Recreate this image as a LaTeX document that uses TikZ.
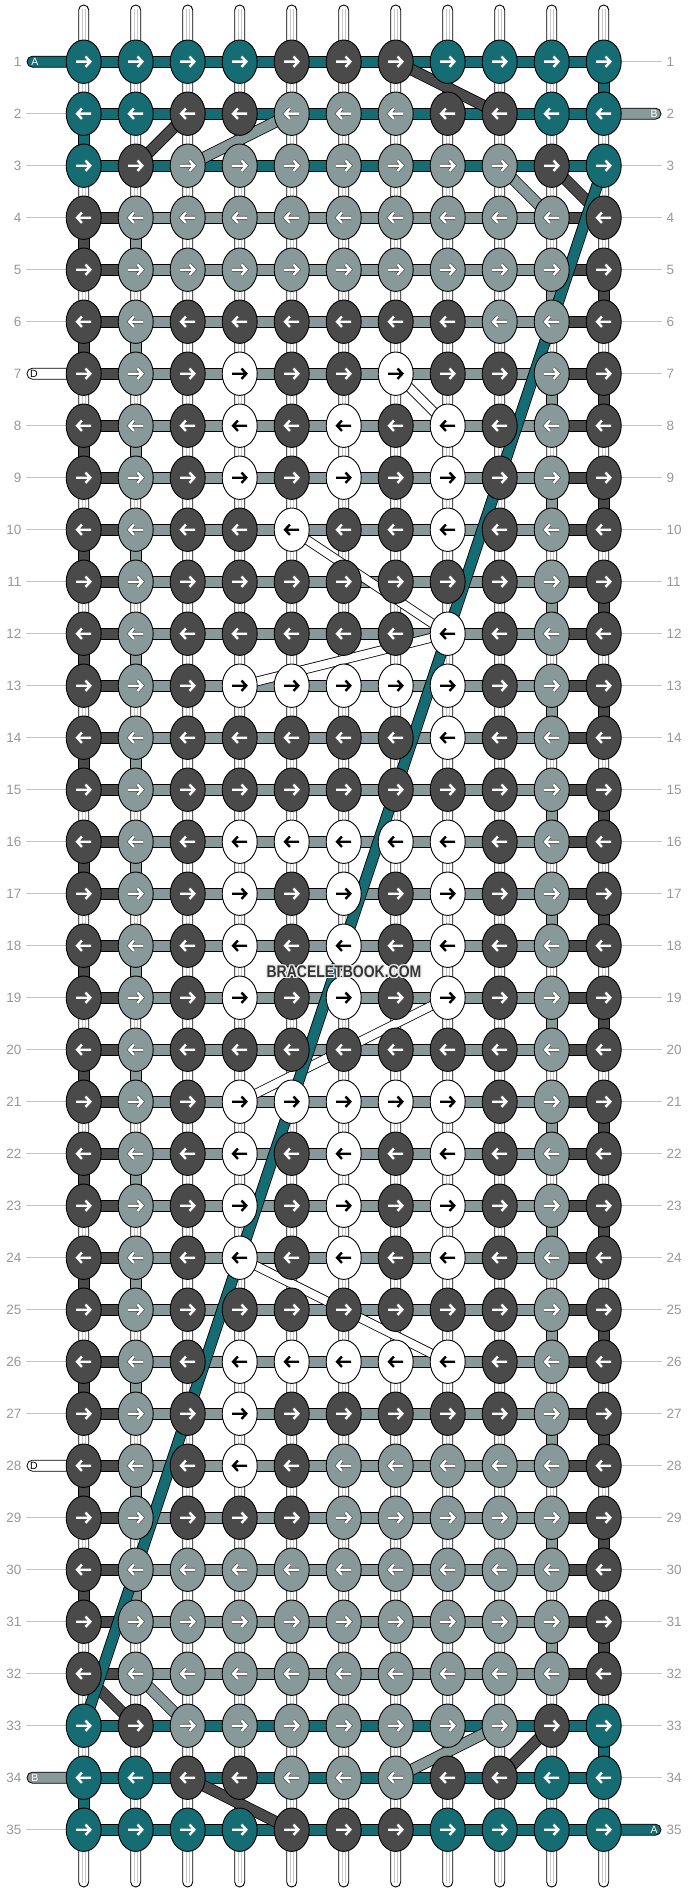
\documentclass[tikz,border=0pt]{standalone}
\usepackage{fontspec}
\setmainfont{Liberation Sans}
\usetikzlibrary{shapes.geometric}
\definecolor{kT}{HTML}{166C73}
\definecolor{kK}{HTML}{4A4A4A}
\definecolor{kG}{HTML}{889999}
\definecolor{kW}{HTML}{FFFFFF}
\colorlet{aT}{white}\colorlet{aK}{white}\colorlet{aG}{white}\colorlet{aW}{black}
\colorlet{oT}{kT}\colorlet{oK}{kK}\colorlet{oG}{black!70}\colorlet{oW}{kW}
\definecolor{lbl}{HTML}{999999}
\definecolor{lblline}{HTML}{C4C4C4}
\definecolor{vin}{HTML}{C8C8C8}
\definecolor{wm}{HTML}{353535}
\tikzset{
  knot/.style={ellipse, draw=black, line width=0.9, minimum width=35, minimum height=43.4, inner sep=0},
  vstring/.style={fill=white, draw=black, line width=0.9, rounded corners=5},
  vinner/.style={draw=vin, line width=0.8},
  bar/.style={draw=black, line width=0.8},
  lbl/.style={text=lbl, inner sep=0, font=\fontsize{13.5}{14}\selectfont},
  lblln/.style={draw=lblline, line width=1},
  taillbl/.style={inner sep=0, font=\fontsize{10.5}{11}\selectfont},
  arr/.style={line cap=butt, line join=miter},
  wmstyle/.style={inner sep=0, font=\bfseries\fontsize{14}{14}\selectfont}
}
\newcommand\mkband[3]{\draw[line width=11.6, black] (#2) -- (#3); \draw[line width=10, #1] (#2) -- (#3);}
\newcommand\mkwband[2]{\draw[line width=9.6, black] (#1) -- (#2); \draw[line width=8, white] (#1) -- (#2);}
\begin{document}
\begin{tikzpicture}[x=1pt,y=-1pt]
\fill[white] (0,0) rectangle (688,1892);
\useasboundingbox (0,0) rectangle (688,1892);
\foreach \r in {1,...,35}{\foreach \i in {1,...,11}{\coordinate (c-\r-\i) at ({83.7+52*(\i-1)},{61.7+52*(\r-1)});}}
% vertical strings
\foreach \i in {1,...,11}{
  \pgfmathsetmacro\xx{83.7+52*(\i-1)}
  \draw[vstring] (\xx-5,5) rectangle (\xx+5,1887);
  \draw[vinner] (\xx-1.7,9) -- (\xx-1.7,1883) (\xx+1.7,9) -- (\xx+1.7,1883);
}
% row labels
\foreach \r in {1,...,35}{
  \pgfmathsetmacro\yy{61.7+52*(\r-1)}
  \node[lbl, anchor=east] (ln-\r) at (21.5,\yy) {\r};
  \node[lbl, anchor=west] (rn-\r) at (666.5,\yy) {\r};
}
\foreach \r in {2,...,6,8,9,...,27,29,30,...,33,35}{\draw[lblln] ([xshift=4.5]ln-\r.east) -- ([xshift=-17.5]c-\r-1);}
\foreach \r in {1,3,4,...,34}{\draw[lblln] ([xshift=17.5]c-\r-11) -- ([xshift=-4.5]rn-\r.west);}
% tails
\draw[bar, fill=kT, rounded corners=5.4] (27,56.2) rectangle (83.7,67.2);
\node[taillbl, text=white] (tA1) at (35,61.7) {A};
\draw[bar, fill=kG, rounded corners=5.4] (603.7,108.2) rectangle (661,119.2);
\node[taillbl, text=white] (tB2) at (654,113.7) {B};
\draw[bar, fill=white, rounded corners=5.4] (27,368.2) rectangle (83.7,379.2);
\node[taillbl, text=black] (tD7) at (34,373.7) {D};
\draw[bar, fill=white, rounded corners=5.4] (27,1460.2) rectangle (83.7,1471.2);
\node[taillbl, text=black] (tD28) at (34,1465.7) {D};
\draw[bar, fill=kG, rounded corners=5.4] (27,1772.2) rectangle (83.7,1783.2);
\node[taillbl, text=white] (tB34) at (35,1777.7) {B};
\draw[bar, fill=kT, rounded corners=5.4] (603.7,1824.2) rectangle (661,1835.2);
\node[taillbl, text=white] (tA35) at (654,1829.7) {A};
% horizontal bars
\foreach \r in {1,2,3,33,34,35}{
  \pgfmathsetmacro\yy{61.7+52*(\r-1)}
  \draw[bar, fill=kT] (83.7,\yy-5.5) rectangle (603.7,\yy+5.5);
}
\foreach \r in {4,...,32}{
  \pgfmathsetmacro\yy{61.7+52*(\r-1)}
  \draw[bar, fill=kG] (135.7,\yy-5.5) rectangle (551.7,\yy+5.5);
  \draw[bar, fill=kK] (83.7,\yy-5.5) rectangle (135.7,\yy+5.5);
  \draw[bar, fill=kK] (551.7,\yy-5.5) rectangle (603.7,\yy+5.5);
}
% vertical edge connectors
\draw[bar, fill=kT] ([xshift=-5.5]c-1-11) rectangle ([xshift=5.5]c-2-11);
\draw[bar, fill=kT] ([xshift=-5.5]c-2-1) rectangle ([xshift=5.5]c-3-1);
\draw[bar, fill=kT] ([xshift=-5.5]c-33-11) rectangle ([xshift=5.5]c-34-11);
\draw[bar, fill=kT] ([xshift=-5.5]c-34-1) rectangle ([xshift=5.5]c-35-1);
\foreach \r in {4,6,...,30}{
  \pgfmathtruncatemacro\s{\r+1}
  \draw[bar, fill=kK] ([xshift=-5.5]c-\r-1) rectangle ([xshift=5.5]c-\s-1);
  \draw[bar, fill=kG] ([xshift=-5.5]c-\r-2) rectangle ([xshift=5.5]c-\s-2);
}
\foreach \r in {5,7,...,31}{
  \pgfmathtruncatemacro\s{\r+1}
  \draw[bar, fill=kK] ([xshift=-5.5]c-\r-11) rectangle ([xshift=5.5]c-\s-11);
  \draw[bar, fill=kG] ([xshift=-5.5]c-\r-10) rectangle ([xshift=5.5]c-\s-10);
}
% diagonal strands
\mkband{kK}{c-1-7}{c-2-9}
\mkband{kK}{c-2-3}{c-3-2}
\mkband{kG}{c-2-5}{c-3-3}
\mkband{kG}{c-3-9}{c-4-10}
\mkband{kK}{c-3-10}{c-4-11}
\mkwband{c-7-7}{c-8-8}
\mkwband{c-10-5}{c-12-8}
\mkwband{c-12-8}{c-13-4}
\mkwband{c-19-8}{c-21-4}
\mkwband{c-24-4}{c-26-8}
\mkband{kK}{c-32-1}{c-33-2}
\mkband{kG}{c-32-2}{c-33-3}
\mkband{kG}{c-34-7}{c-33-9}
\mkband{kK}{c-34-9}{c-33-10}
\mkband{kK}{c-34-3}{c-35-5}
\mkband{kT}{c-3-11}{c-33-1}
% knots
\foreach \r/\row in {
 1/{T,T,T,T,K,K,K,T,T,T,T},
 2/{T,T,K,K,G,G,G,K,K,T,T},
 3/{T,K,G,G,G,G,G,G,G,K,T},
 4/{K,G,G,G,G,G,G,G,G,G,K},
 5/{K,G,G,G,G,G,G,G,G,G,K},
 6/{K,G,K,K,K,K,K,K,G,G,K},
 7/{K,G,K,W,K,K,W,K,K,G,K},
 8/{K,G,K,W,K,W,K,W,K,G,K},
 9/{K,G,K,W,K,W,K,W,K,G,K},
 10/{K,G,K,K,W,K,K,W,K,G,K},
 11/{K,G,K,K,K,K,K,K,K,G,K},
 12/{K,G,K,K,K,K,K,W,K,G,K},
 13/{K,G,K,W,W,W,W,W,K,G,K},
 14/{K,G,K,K,K,K,K,W,K,G,K},
 15/{K,G,K,K,K,K,K,K,K,G,K},
 16/{K,G,K,W,W,W,W,W,K,G,K},
 17/{K,G,K,W,K,W,K,W,K,G,K},
 18/{K,G,K,W,K,W,K,W,K,G,K},
 19/{K,G,K,W,K,W,K,W,K,G,K},
 20/{K,G,K,K,K,K,K,K,K,G,K},
 21/{K,G,K,W,W,W,W,W,K,G,K},
 22/{K,G,K,W,K,W,K,W,K,G,K},
 23/{K,G,K,W,K,W,K,W,K,G,K},
 24/{K,G,K,W,K,W,K,W,K,G,K},
 25/{K,G,K,K,K,K,K,K,K,G,K},
 26/{K,G,K,W,W,W,W,W,K,G,K},
 27/{K,G,K,W,K,K,K,K,K,G,K},
 28/{K,G,K,W,K,G,G,G,G,G,K},
 29/{K,G,K,K,K,G,G,G,G,G,K},
 30/{K,G,G,G,G,G,G,G,G,G,K},
 31/{K,G,G,G,G,G,G,G,G,G,K},
 32/{K,G,G,G,G,G,G,G,G,G,K},
 33/{T,K,G,G,G,G,G,G,G,K,T},
 34/{T,T,K,K,G,G,G,K,K,T,T},
 35/{T,T,T,T,K,K,K,T,T,T,T}}{
  \pgfmathsetmacro\dir{ifthenelse(mod(\r,2)==1,1,-1)}
  \foreach \c [count=\i] in \row {
    \node[knot, fill=k\c] (k-\r-\i) at (c-\r-\i) {};
    \draw[arr, draw=o\c, line width=3.8, shift={(c-\r-\i)}, xscale=\dir] (-7.5,0) -- (6.6,0) (1.8,-5.2) -- (6.6,0) -- (1.8,5.2);
    \draw[arr, draw=a\c, line width=2.4, shift={(c-\r-\i)}, xscale=\dir] (-7.5,0) -- (6.6,0) (1.8,-5.2) -- (6.6,0) -- (1.8,5.2);
  }
}
% watermark with light halo
\foreach \dx/\dy [count=\h] in {-1.2/-1.2,-1.2/0,-1.2/1.2,0/-1.2,0/1.2,1.2/-1.2,1.2/0,1.2/1.2}{
  \node[wmstyle, text=white!92!black] (wh-\h) at (344+\dx,972+\dy) {\scalebox{1}[1.2]{BRACELETBOOK.COM}};
}
\node[wmstyle, text=wm] (wmark) at (344,972) {\scalebox{1}[1.2]{BRACELETBOOK.COM}};
\end{tikzpicture}
\end{document}
